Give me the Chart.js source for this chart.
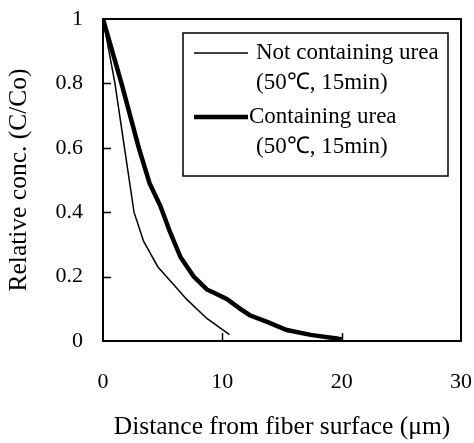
<!DOCTYPE html>
<html>
<head>
<meta charset="utf-8">
<script src="https://cdn.jsdelivr.net/npm/chart.js@4.4.1/dist/chart.umd.min.js"></script>
<style>
  html, body { margin: 0; padding: 0; background: #fff; }
  #wrap { width: 474px; height: 443px; position: relative; }
</style>
</head>
<body>
<div id="wrap"><canvas id="c" width="474" height="443"></canvas></div>
<script>
// ---- Data ----
const notUreaX = [0, 1.0, 1.8, 2.2, 2.6, 3.4, 4.6, 5.8, 7.0, 8.7, 10.6];
const notUreaY = [1, 0.8, 0.6, 0.5, 0.4, 0.31, 0.23, 0.18, 0.13, 0.07, 0.02];
const ureaX = [0, 1.55, 3.0, 3.9, 4.8, 5.6, 6.5, 7.6, 8.7, 9.3, 10.4, 11.5, 12.3, 13.7, 15.4, 17.4, 19.6, 20];
const ureaY = [1, 0.8, 0.6, 0.49, 0.42, 0.34, 0.26, 0.2, 0.16, 0.15, 0.13, 0.1, 0.08, 0.06, 0.034, 0.019, 0.008, 0.005];
const seriesNames = ["Not containing urea", "Containing urea"];
const seriesNotes = ["(50\u2103, 15min)", "(50\u2103, 15min)"];
const xTicks = [0, 10, 20, 30];
const yTicks = [0, 0.2, 0.4, 0.6, 0.8, 1];
const xTitle = "Distance from fiber surface (\u03bcm)";
const yTitle = "Relative conc. (C/Co)";

const FONT = "'Liberation Serif', 'Times New Roman', serif";
const toPts = (xs, ys) => xs.map((x, i) => ({x: x, y: ys[i]}));
const zeroPad = s => { s.paddingLeft = 0; s.paddingRight = 0; s.paddingTop = 0; s.paddingBottom = 0; };

const framePlugin = {
  id: 'frame',
  afterDatasetsDraw(chart) {
    const {ctx, chartArea: a, scales} = chart;
    ctx.save();
    ctx.strokeStyle = '#000';
    ctx.lineWidth = 2;
    ctx.strokeRect(a.left, a.top, a.right - a.left, a.bottom - a.top);
    // inward ticks
    ctx.lineWidth = 1.5;
    ctx.beginPath();
    yTicks.forEach(v => {
      if (v === 0 || v === 1) return;
      const y = Math.round(scales.y.getPixelForValue(v)) + 0.5;
      ctx.moveTo(a.left, y); ctx.lineTo(a.left + 8, y);
    });
    xTicks.forEach(v => {
      if (v === 0 || v === 30) return;
      const x = Math.round(scales.x.getPixelForValue(v)) + 0.5;
      ctx.moveTo(x, a.bottom); ctx.lineTo(x, a.bottom - 8);
    });
    ctx.stroke();
    // legend box
    const L = a.left + 80, T = a.top + 14, R = a.right - 13, B = a.top + 157;
    ctx.lineWidth = 1.5;
    ctx.strokeRect(L, T, R - L, B - T);
    const ds = chart.data.datasets;
    ctx.font = "23px " + FONT;
    ctx.fillStyle = '#000';
    ctx.textBaseline = 'middle';
    ctx.textAlign = 'left';
    const rows = [[T + 20, T + 50], [T + 84, T + 114]];
    ds.forEach((d, i) => {
      const [y1, y2] = rows[i];
      ctx.lineWidth = d.borderWidth;
      ctx.beginPath();
      ctx.moveTo(L + 11, y1); ctx.lineTo(L + 65, y1);
      ctx.stroke();
      ctx.fillText(seriesNames[i], L + (i === 0 ? 73 : 66), y1);
      ctx.fillText(seriesNotes[i], L + 73, y2);
    });
    ctx.restore();
  }
};

new Chart(document.getElementById('c'), {
  type: 'scatter',
  data: {
    datasets: [
      { label: seriesNames[0], data: toPts(notUreaX, notUreaY), showLine: true,
        borderColor: '#000', borderWidth: 1.5, pointRadius: 0, tension: 0 },
      { label: seriesNames[1], data: toPts(ureaX, ureaY), showLine: true,
        borderColor: '#000', borderWidth: 4.5, pointRadius: 0, tension: 0 }
    ]
  },
  options: {
    responsive: false,
    animation: false,
    devicePixelRatio: 1,
    layout: { padding: { left: 0, right: 13, top: 19, bottom: 0 } },
    plugins: { legend: { display: false }, tooltip: { enabled: false } },
    scales: {
      x: {
        type: 'linear', min: 0, max: 30,
        afterBuildTicks: s => { s.ticks = xTicks.map(v => ({value: v})); },
        afterFit: s => { s.height = 102; zeroPad(s); },
        grid: { display: false, drawTicks: false },
        border: { display: false },
        ticks: { color: '#000', padding: 28, maxRotation: 0, font: { family: FONT, size: 22 } },
        title: { display: true, text: xTitle, color: '#000',
                 font: { family: FONT, size: 25.5, lineHeight: 1 }, padding: { top: 0, bottom: 3 } }
      },
      y: {
        type: 'linear', min: 0, max: 1,
        afterBuildTicks: s => { s.ticks = yTicks.map(v => ({value: v})); },
        afterFit: s => { s.width = 103; zeroPad(s); },
        grid: { display: false, drawTicks: false },
        border: { display: false },
        ticks: { color: '#000', padding: 20, font: { family: FONT, size: 22 },
                 callback: v => String(v) },
        title: { display: true, text: yTitle, color: '#000',
                 font: { family: FONT, size: 25.5, lineHeight: 1 }, padding: { top: 7, bottom: 0 } }
      }
    }
  },
  plugins: [framePlugin]
});
</script>
</body>
</html>
